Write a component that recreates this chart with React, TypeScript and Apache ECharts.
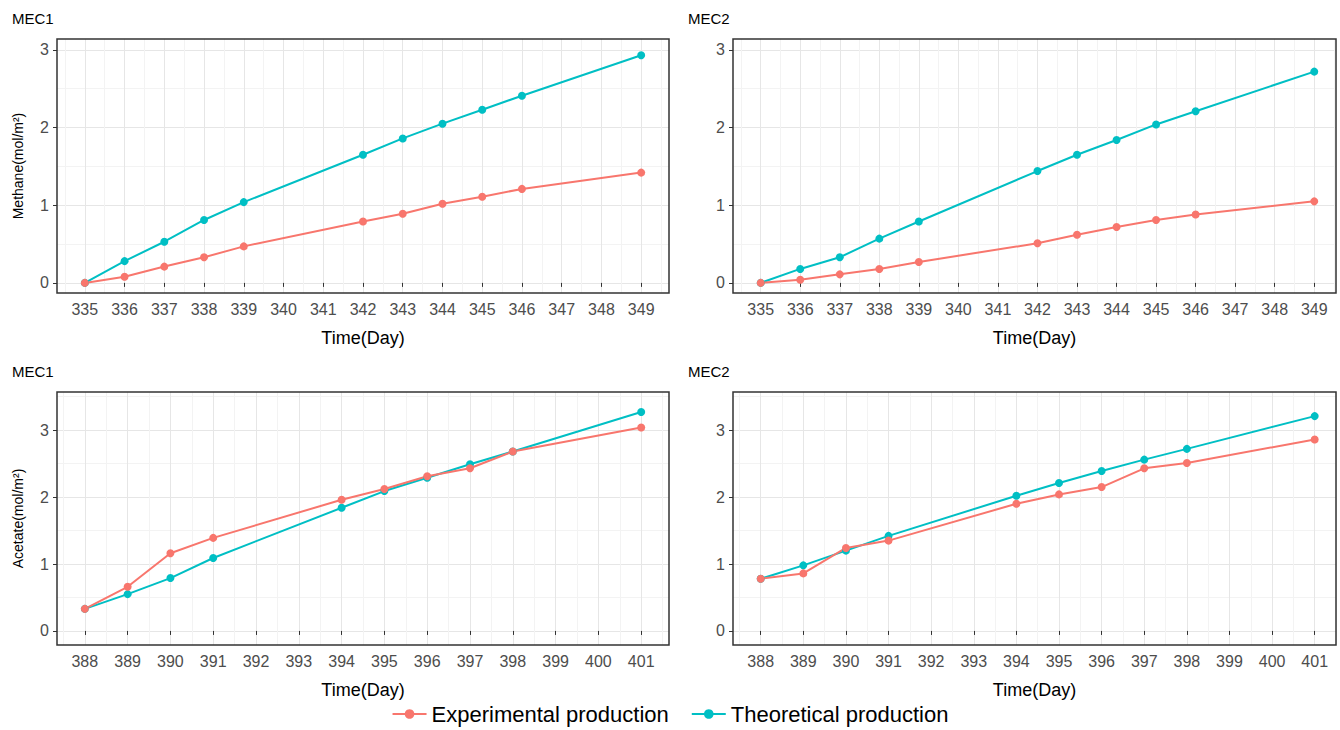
import * as echarts from "echarts";
import { useEffect, useRef } from "react";

const methaneDays = [335, 336, 337, 338, 339, 342, 343, 344, 345, 346, 349];
const acetateDays = [388, 389, 390, 391, 394, 395, 396, 397, 398, 401];

const mec1MethaneExp = [0, 0.08, 0.21, 0.33, 0.47, 0.79, 0.89, 1.02, 1.11, 1.21, 1.42];
const mec1MethaneTheo = [0, 0.28, 0.53, 0.81, 1.04, 1.65, 1.86, 2.05, 2.23, 2.41, 2.93];
const mec2MethaneExp = [0, 0.04, 0.11, 0.18, 0.27, 0.51, 0.62, 0.72, 0.81, 0.88, 1.05];
const mec2MethaneTheo = [0, 0.18, 0.33, 0.57, 0.79, 1.44, 1.65, 1.84, 2.04, 2.21, 2.72];

const mec1AcetateExp = [0.33, 0.66, 1.16, 1.39, 1.96, 2.12, 2.31, 2.43, 2.68, 3.04];
const mec1AcetateTheo = [0.33, 0.55, 0.79, 1.09, 1.84, 2.09, 2.29, 2.49, 2.68, 3.27];
const mec2AcetateExp = [0.78, 0.86, 1.24, 1.35, 1.9, 2.04, 2.15, 2.43, 2.51, 2.86];
const mec2AcetateTheo = [0.78, 0.98, 1.2, 1.42, 2.02, 2.21, 2.39, 2.56, 2.72, 3.21];

const methaneTicks = Array.from({ length: 15 }, (_, i) => 335 + i);
const acetateTicks = Array.from({ length: 14 }, (_, i) => 388 + i);
const yTicks = [0, 1, 2, 3];

const RED = "#F8766D";
const TEAL = "#00BFC4";

const panels = [
  { title: "MEC1", left: 57, top: 39, width: 612, height: 254, xmin: 334.3, xmax: 349.7, ymin: -0.13, ymax: 3.14, ticks: methaneTicks, days: methaneDays, exp: mec1MethaneExp, theo: mec1MethaneTheo, yName: "Methane(mol/m²)" },
  { title: "MEC2", left: 733, top: 39, width: 603, height: 254, xmin: 334.3, xmax: 349.55, ymin: -0.13, ymax: 3.14, ticks: methaneTicks, days: methaneDays, exp: mec2MethaneExp, theo: mec2MethaneTheo, yName: "" },
  { title: "MEC1", left: 57, top: 392, width: 612, height: 253, xmin: 387.35, xmax: 401.65, ymin: -0.21, ymax: 3.57, ticks: acetateTicks, days: acetateDays, exp: mec1AcetateExp, theo: mec1AcetateTheo, yName: "Acetate(mol/m²)" },
  { title: "MEC2", left: 733, top: 392, width: 603, height: 253, xmin: 387.35, xmax: 401.5, ymin: -0.21, ymax: 3.57, ticks: acetateTicks, days: acetateDays, exp: mec2AcetateExp, theo: mec2AcetateTheo, yName: "" },
];

const halves = (vals: number[]) => vals.map((v) => v - 0.5).concat([vals[vals.length - 1] + 0.5]);

export default function App() {
  const ref = useRef<HTMLDivElement>(null);

  useEffect(() => {
    const chart = echarts.init(ref.current!, undefined, { renderer: "svg" });
    const grid: any[] = [];
    const xAxis: any[] = [];
    const yAxis: any[] = [];
    const series: any[] = [];
    const graphic: any[] = [];

    panels.forEach((p, i) => {
      grid.push({ left: p.left, top: p.top, width: p.width, height: p.height, show: false });
      // main axes: labels, ticks, major grid lines
      xAxis.push({
        type: "value", gridIndex: i, min: p.xmin, max: p.xmax,
        name: "Time(Day)", nameLocation: "middle", nameGap: 36,
        nameTextStyle: { fontSize: 18, color: "#000", fontFamily: "Liberation Sans" },
        axisLine: { show: false },
        axisTick: { show: true, customValues: p.ticks, length: 4, lineStyle: { color: "#333" } },
        axisLabel: { customValues: p.ticks, fontSize: 16, color: "#4d4d4d", margin: 8, fontFamily: "Liberation Sans", formatter: (v: number) => String(Math.round(v)) },
        splitLine: { show: true, lineStyle: { color: "#e6e6e6", width: 1 } },
      });
      yAxis.push({
        type: "value", gridIndex: i, min: p.ymin, max: p.ymax,
        name: p.yName, nameLocation: "middle", nameGap: 32,
        nameTextStyle: { fontSize: 14, color: "#000", fontFamily: "Liberation Sans" },
        axisLine: { show: false },
        axisTick: { show: true, customValues: yTicks, length: 4, lineStyle: { color: "#333" } },
        axisLabel: { customValues: yTicks, fontSize: 16, color: "#4d4d4d", margin: 8, fontFamily: "Liberation Sans" },
        splitLine: { show: true, lineStyle: { color: "#e6e6e6", width: 1 } },
      });
      // minor grid axes
      xAxis.push({
        type: "value", gridIndex: i, min: p.xmin, max: p.xmax, position: "top",
        axisLine: { show: false }, axisLabel: { show: false },
        axisTick: { show: false, customValues: halves(p.ticks) },
        splitLine: { show: true, lineStyle: { color: "#f3f3f3", width: 1 } },
      });
      yAxis.push({
        type: "value", gridIndex: i, min: p.ymin, max: p.ymax, position: "right",
        axisLine: { show: false }, axisLabel: { show: false },
        axisTick: { show: false, customValues: [0.5, 1.5, 2.5, 3.5] },
        splitLine: { show: true, lineStyle: { color: "#f3f3f3", width: 1 } },
      });
      const xi = i * 2;
      const yi = i * 2;
      const mk = (name: string, vals: number[], color: string) => ({
        name, type: "line", xAxisIndex: xi, yAxisIndex: yi,
        data: p.days.map((d, k) => [d, vals[k]]),
        symbol: "circle", symbolSize: 8, color,
        lineStyle: { width: 2, color }, itemStyle: { color }, z: 5,
      });
      series.push(mk("Theoretical production", p.theo, TEAL));
      series.push(mk("Experimental production", p.exp, RED));
      graphic.push({
        type: "text", left: p.left - 45, top: p.top - 28,
        style: { text: p.title, fontSize: 15, fill: "#000", fontFamily: "Liberation Sans" },
      });
      graphic.push({
        type: "rect", z: 100, silent: true,
        shape: { x: p.left, y: p.top, width: p.width, height: p.height },
        style: { fill: "none", stroke: "#333", lineWidth: 1.5 },
      });
    });

    chart.setOption({
      animation: false,
      backgroundColor: "#fff",
      grid, xAxis, yAxis, series, graphic,
      legend: {
        bottom: 0, left: "center", itemGap: 22, itemWidth: 34, itemHeight: 12,
        data: ["Experimental production", "Theoretical production"],
        textStyle: { fontSize: 22, color: "#000", fontFamily: "Liberation Sans" },
      },
    });
    return () => chart.dispose();
  }, []);

  return <div ref={ref} style={{ position: "fixed", left: 0, top: 0, width: 1340, height: 730 }} />;
}
